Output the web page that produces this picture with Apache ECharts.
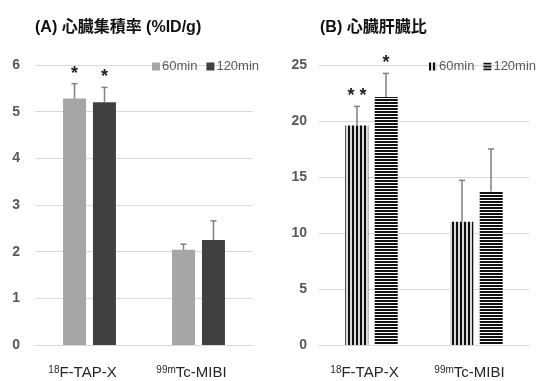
<!DOCTYPE html>
<html><head><meta charset="utf-8">
<script src="https://cdn.jsdelivr.net/npm/echarts@6/dist/echarts.min.js"></script>
<style>html,body{margin:0;padding:0;background:#fff}#c{width:539px;height:381px}</style>
</head><body><div id="c"></div>
<script>
const categories = ['18F-TAP-X', '99mTc-MIBI'];
const seriesNames = ['60min', '120min'];
// Panel A: heart uptake (%ID/g)
const a60 = [5.28, 2.04];
const a60Err = [0.32, 0.12];
const a60Star = ['*', ''];
const a120 = [5.20, 2.25];
const a120Err = [0.32, 0.41];
const a120Star = ['*', ''];
// Panel B: heart/liver ratio
const b60 = [19.6, 11.0];
const b60Err = [1.7, 3.7];
const b60Star = ['* *', ''];
const b120 = [22.15, 13.7];
const b120Err = [2.1, 3.8];
const b120Star = ['*', ''];
const aTicks = {min: 0, max: 6, interval: 1};
const bTicks = {min: 0, max: 25, interval: 5};
const titleA = '(A) 心臓集積率 (%ID/g)';
const titleB = '(B) 心臓肝臓比';

function stripes(vertical) {
  const c = document.createElement('canvas');
  c.width = 4;
  c.height = vertical ? 4 : 3;
  const g = c.getContext('2d');
  g.fillStyle = vertical ? '#d9d9d9' : '#ffffff';
  g.fillRect(0, 0, c.width, c.height);
  g.fillStyle = '#111';
  if (vertical) g.fillRect(0, 0, 2, 4); else g.fillRect(0, 0, 4, 2);
  return {image: c, repeat: 'repeat'};
}

const FONT = '"Liberation Sans", Arial, "Noto Sans CJK JP", sans-serif';
const LABEL = '#595959';

function xLabel() {
  return {
    interval: 0, margin: 20, padding: [0, 14, 0, 0],
    formatter: function (v) {
      if (v.indexOf('18F') === 0) return '{s|18}{n|' + v.slice(2) + '}';
      if (v.indexOf('99m') === 0) return '{s|99m}{n|' + v.slice(3) + '}';
      return '{n|' + v + '}';
    },
    rich: {
      s: {fontSize: 10, color: '#262626', fontFamily: FONT, verticalAlign: 'top', padding: [0, 0, 6, 0]},
      n: {fontSize: 15, color: '#262626', fontFamily: FONT}
    }
  };
}

function errSeries(idx, vals, errs, stars, offsetFrac) {
  return {
    type: 'custom', xAxisIndex: idx, yAxisIndex: idx, z: 5, silent: true,
    data: vals.map((v, i) => [i, v, v + errs[i]]),
    renderItem: function (params, api) {
      const base = api.coord([api.value(0), api.value(1)]);
      const top = api.coord([api.value(0), api.value(2)]);
      const bw = api.size([1, 0])[0];
      const x = base[0] + bw * offsetFrac;
      const star = stars[params.dataIndex];
      const children = [
        {type: 'line', shape: {x1: x, y1: base[1], x2: x, y2: top[1]}, style: {stroke: '#808080', lineWidth: 1.5}},
        {type: 'line', shape: {x1: x - 3, y1: top[1], x2: x + 3, y2: top[1]}, style: {stroke: '#808080', lineWidth: 1.5}}
      ];
      if (star) children.push({type: 'text', style: {text: star, x: x, y: top[1] - 1, align: 'center', verticalAlign: 'bottom', font: 'bold 18px ' + FONT, fill: '#222'}});
      return {type: 'group', children: children};
    }
  };
}

const chart = echarts.init(document.getElementById('c'), null, {renderer: 'canvas'});
const vPat = stripes(true), hPat = stripes(false);
const legendText = {color: LABEL, fontSize: 13, fontFamily: FONT, padding: [0, 0, 0, -3]};
chart.setOption({
  animation: false,
  backgroundColor: '#fff',
  title: [
    {text: titleA, left: 30, top: 15, textStyle: {fontSize: 16, fontWeight: 'bold', color: '#111', fontFamily: FONT}},
    {text: titleB, left: 315, top: 15, textStyle: {fontSize: 16, fontWeight: 'bold', color: '#111', fontFamily: FONT}}
  ],
  legend: [
    {data: [{name: 'A60', icon: 'rect'}, {name: 'A120', icon: 'rect'}], left: 152, top: 60, width: 140, padding: 0,
     itemWidth: 8, itemHeight: 8, itemGap: 9, formatter: n => n.slice(1) + 'min', textStyle: legendText},
    {data: [{name: 'B60', icon: 'rect'}, {name: 'B120', icon: 'rect'}], left: 429, top: 60, width: 140, padding: 0,
     itemWidth: 8, itemHeight: 8, itemGap: 9, formatter: n => n.slice(1) + 'min', textStyle: legendText}
  ],
  grid: [
    {left: 35, right: 286, top: 65, bottom: 36},
    {left: 319, right: 10, top: 65, bottom: 36}
  ],
  xAxis: [0, 1].map(i => ({
    type: 'category', gridIndex: i, data: categories,
    axisLine: {lineStyle: {color: '#d9d9d9', width: 1}}, axisTick: {show: false},
    axisLabel: xLabel()
  })),
  yAxis: [aTicks, bTicks].map((t, i) => ({
    type: 'value', gridIndex: i, min: t.min, max: t.max, interval: t.interval,
    axisLine: {show: false}, axisTick: {show: false},
    splitLine: {lineStyle: {color: '#d9d9d9', width: 1}},
    axisLabel: {color: LABEL, fontSize: 14, fontWeight: 'bold', fontFamily: FONT, margin: i === 0 ? 15 : 12}
  })),
  series: [
    {name: 'A60', type: 'bar', xAxisIndex: 0, yAxisIndex: 0, data: a60, barWidth: 23, barGap: '30%', itemStyle: {color: '#a6a6a6'}},
    {name: 'A120', type: 'bar', xAxisIndex: 0, yAxisIndex: 0, data: a120, barWidth: 23, barGap: '30%', itemStyle: {color: '#404040'}},
    {name: 'B60', type: 'bar', xAxisIndex: 1, yAxisIndex: 1, data: b60, barWidth: 23, barGap: '28%', itemStyle: {color: vPat}},
    {name: 'B120', type: 'bar', xAxisIndex: 1, yAxisIndex: 1, data: b120, barWidth: 23, barGap: '28%', itemStyle: {color: hPat}},
    errSeries(0, a60, a60Err, a60Star, -15 / 109),
    errSeries(0, a120, a120Err, a120Star, 15 / 109),
    errSeries(1, b60, b60Err, b60Star, -14.5 / 105),
    errSeries(1, b120, b120Err, b120Star, 14.5 / 105)
  ]
});
</script></body></html>
